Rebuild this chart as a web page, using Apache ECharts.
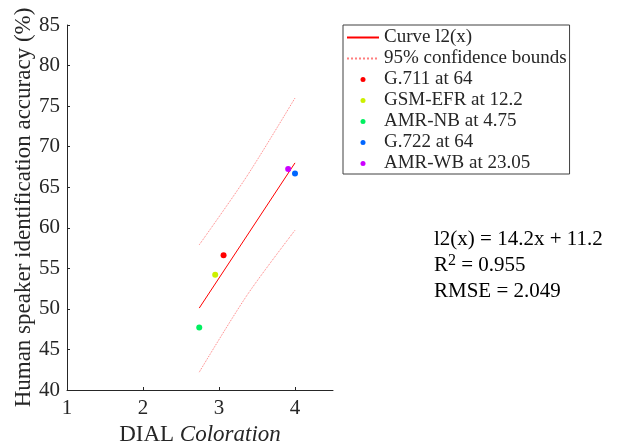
<!DOCTYPE html>
<html>
<head>
<meta charset="utf-8">
<script src="https://cdn.jsdelivr.net/npm/echarts@6/dist/echarts.min.js"></script>
<style>html,body{margin:0;padding:0;background:#fff;}#c{width:617px;height:447px;}</style>
</head>
<body>
<div id="c"></div>
<script>
// ---- data ----
const codecNames = ['G.711 at 64', 'GSM-EFR at 12.2', 'AMR-NB at 4.75', 'G.722 at 64', 'AMR-WB at 23.05'];
const codecX = [3.06, 2.95, 2.74, 4.00, 3.91];
const codecY = [56.6, 54.2, 47.7, 66.7, 67.25];
const codecColors = ['#ff0000', '#ccf000', '#00f060', '#0066ff', '#cc00ff'];

const fitX = [2.74, 4.00];
const fitY = [50.1, 68.0];
const boundX = [2.74, 3.37, 4.00];
const upperY = [57.9, 66.4, 76.0];
const lowerY = [42.2, 51.7, 59.7];

const xTicks = [1, 2, 3, 4];
const annotationLines = ['l2(x) = 14.2x + 11.2', '0.955', 'RMSE = 2.049'];

// ---- chart ----
const FONT = 'Liberation Serif';
const TXT = '#262626';
const chart = echarts.init(document.getElementById('c'));

const zip = (xs, ys) => xs.map((x, i) => [x, ys[i]]);
const BOUND = 'rgba(255,40,40,0.6)';
const NONE = 'rgba(0,0,0,0)';

const series = [
  {
    name: 'Curve l2(x)', type: 'line', data: zip(fitX, fitY), symbol: 'none',
    lineStyle: { color: '#ff0000', width: 1 }, itemStyle: { color: NONE, borderColor: NONE }, z: 3
  },
  {
    name: '95% confidence bounds', type: 'line', data: zip(boundX, upperY), symbol: 'none', smooth: 0.3,
    lineStyle: { color: BOUND, width: 1, type: 'dotted' }, itemStyle: { color: NONE, borderColor: NONE }
  },
  {
    name: '95% confidence bounds', type: 'line', data: zip(boundX, lowerY), symbol: 'none', smooth: 0.3,
    lineStyle: { color: BOUND, width: 1, type: 'dotted' }, itemStyle: { color: NONE, borderColor: NONE }
  }
];
codecNames.forEach((n, i) => {
  series.push({
    name: n, type: 'scatter', symbol: 'circle', symbolSize: 6,
    data: [[codecX[i], codecY[i]]],
    itemStyle: { color: codecColors[i], opacity: 1 }, z: 4
  });
});

chart.setOption({
  animation: false,
  backgroundColor: '#fff',
  textStyle: { fontFamily: FONT, color: TXT },
  grid: { left: 67, top: 25, width: 266, height: 365, containLabel: false, outerBoundsMode: 'none' },
  xAxis: {
    type: 'value', min: 1, max: 4.5, interval: 1,
    name: '{a|DIAL }{b|Coloration}', nameLocation: 'middle', nameGap: 33,
    nameTextStyle: {
      rich: {
        a: { fontFamily: FONT, fontSize: 23, color: TXT },
        b: { fontFamily: FONT, fontSize: 23, color: TXT, fontStyle: 'italic' }
      }
    },
    axisLine: { show: true, lineStyle: { color: TXT, width: 1 } },
    axisTick: { show: true, inside: true, length: 3, customValues: xTicks, lineStyle: { color: TXT } },
    axisLabel: { customValues: xTicks, fontFamily: FONT, fontSize: 21, color: TXT, margin: 8 },
    splitLine: { show: false }
  },
  yAxis: {
    type: 'value', min: 40, max: 85, interval: 5,
    name: 'Human speaker identification accuracy (%)', nameLocation: 'middle', nameGap: 29,
    nameTextStyle: { fontFamily: FONT, fontSize: 23, color: TXT },
    axisLine: { show: true, lineStyle: { color: TXT, width: 1 } },
    axisTick: { show: true, inside: true, length: 3, lineStyle: { color: TXT } },
    axisLabel: { fontFamily: FONT, fontSize: 21, color: TXT, margin: 7 },
    splitLine: { show: false }
  },
  legend: {
    orient: 'vertical', left: 343, top: 25,
    data: ['Curve l2(x)', '95% confidence bounds'].concat(codecNames),
    itemWidth: 32, itemHeight: 5, itemGap: 0,
    padding: [2, 3, 0, 3],
    borderColor: '#404040', borderWidth: 1, backgroundColor: '#fff',
    textStyle: { fontFamily: FONT, fontSize: 19, lineHeight: 21, color: TXT },
    selectedMode: false
  },
  graphic: [{
    type: 'text', left: 434, top: 229,
    style: {
      text: '{a|' + annotationLines[0] + '}\n{a|R}{sup|2}{a| = ' + annotationLines[1] + '}\n{a|' + annotationLines[2] + '}',
      rich: {
        a: { fontFamily: FONT, fontSize: 21, lineHeight: 26, fill: '#000' },
        sup: { fontFamily: FONT, fontSize: 16, lineHeight: 16, fill: '#000', verticalAlign: 'top' }
      }
    }
  }],
  series: series
});
</script>
</body>
</html>
